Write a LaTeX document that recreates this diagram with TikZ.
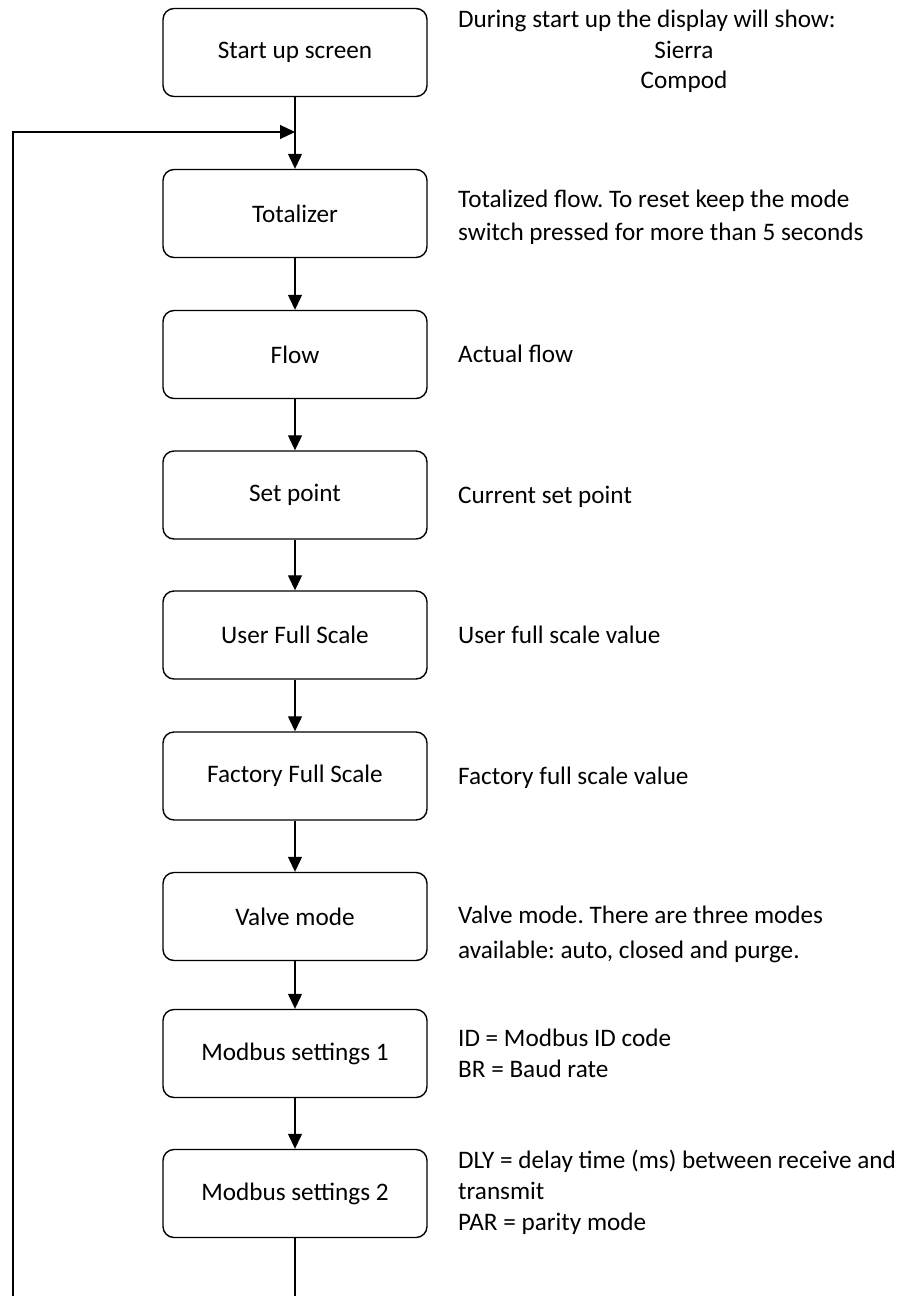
\documentclass[tikz,border=0pt]{standalone}
\usepackage{fontspec}
\setmainfont{Carlito}
\usetikzlibrary{arrows.meta}
\frenchspacing
\begin{document}
\begin{tikzpicture}[x=1pt,y=-1pt,
  box/.style={draw,line width=1.4pt,rounded corners=11pt,minimum width=264pt,minimum height=88pt,inner sep=0pt,font=\fontsize{25.2}{30}\selectfont},
  desc/.style={anchor=base west,inner sep=0pt,font=\fontsize{25.2}{30}\selectfont},
  descc/.style={anchor=base,inner sep=0pt,font=\fontsize{25.2}{30}\selectfont},
  conn/.style={line width=1.2pt,-{Triangle[length=15pt,width=14pt]}},
  plain/.style={line width=1.2pt}]
\useasboundingbox (0,0) rectangle (905,1296);
\node[box] (b1) at (295,52.5) {Start up screen};
\node[box] (b2) at (295,213.5) {Totalizer};
\node[box] (b3) at (295,354.5) {Flow};
\node[box] (b4) at (295,495) {Set point};
\node[box] (b5) at (295,635) {User Full Scale};
\node[box] (b6) at (295,776) {Factory Full Scale};
\node[box] (b7) at (295,916.5) {Valve mode};
\node[box] (b8) at (295,1053.5) {Modbus settings 1};
\node[box] (b9) at (295,1193.5) {Modbus settings 2};
% descriptions
\node[desc] (d1a) at (458,27) {During start up the display will show:};
\node[descc] (d1b) at (684,58) {Sierra};
\node[descc] (d1c) at (684,88) {Compod};
\node[desc] (d2a) at (458,207) {Totalized flow. To reset keep the mode};
\node[desc] (d2b) at (458,240) {switch pressed for more than 5 seconds};
\node[desc] (d3) at (458,362) {Actual flow};
\node[desc] (d4) at (458,503) {Current set point};
\node[desc] (d5) at (458,643) {User full scale value};
\node[desc] (d6) at (458,784) {Factory full scale value};
\node[desc] (d7a) at (458,923) {Valve mode. There are three modes};
\node[desc] (d7b) at (458,958) {available: auto, closed and purge.};
\node[desc] (d8a) at (458,1046) {ID = Modbus ID code};
\node[desc] (d8b) at (458,1077) {BR = Baud rate};
\node[desc] (d9a) at (458,1168) {DLY = delay time (ms) between receive and};
\node[desc] (d9b) at (458,1199) {transmit};
\node[desc] (d9c) at (458,1230) {PAR = parity mode};
% connectors
\coordinate (j) at (295,132);
\coordinate (lb) at (13,1297);
\coordinate (lt) at (13,132);
\coordinate (cb) at (295,1297);
\draw[plain] (b1.south) -- (j);
\draw[conn] (j) -- (b2.north);
\draw[conn] (lb) -- (lt) -- (j);
\draw[conn] (b2.south) -- (b3.north);
\draw[conn] (b3.south) -- (b4.north);
\draw[conn] (b4.south) -- (b5.north);
\draw[conn] (b5.south) -- (b6.north);
\draw[conn] (b6.south) -- (b7.north);
\draw[conn] (b7.south) -- (b8.north);
\draw[conn] (b8.south) -- (b9.north);
\draw[plain] (b9.south) -- (cb);
\end{tikzpicture}
\end{document}
